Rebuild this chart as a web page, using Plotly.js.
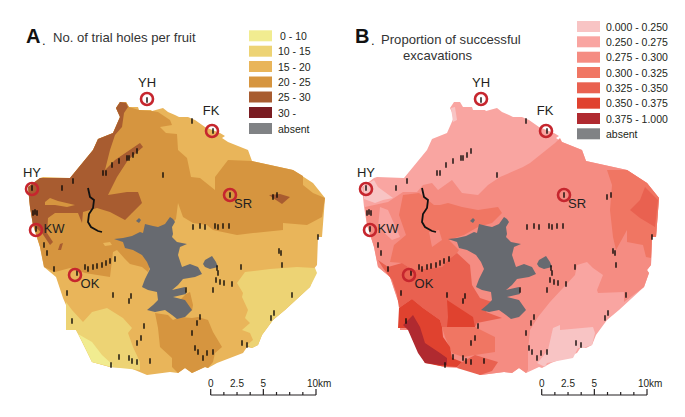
<!DOCTYPE html>
<html><head><meta charset="utf-8">
<script src="https://cdn.plot.ly/plotly-3.0.1.min.js"></script>
<style>html,body{margin:0;padding:0;background:#fff}#c{width:685px;height:417px}</style>
</head><body><div id="c"></div>
<script>
// ---------- legend content ----------
var legendA = ['0 - 10','10 - 15','15 - 20','20 - 25','25 - 30','30 -','absent'];
var coloursA = ['#F1EC90','#EDD374','#E9B55A','#D6953F','#A85C30','#7A1C22','#808285'];
var legendB = ['0.000 - 0.250','0.250 - 0.275','0.275 - 0.300','0.300 - 0.325','0.325 - 0.350','0.350 - 0.375','0.375 - 1.000','absent'];
var coloursB = ['#F8C4C4','#F9A5A1','#F58C82','#F07663','#E96150','#E0422F','#B02A30','#808285'];
var absentMap = '#676A70';

// ---------- sites ----------
var siteNames = ['YH','FK','SR','HY','KW','OK'];
var siteX = [147,212,230,32,36,75];
var siteY = [99,131,195,189,230,275];
var siteLabelX = [147,211,243,32,54,90];
var siteLabelY = [84,112,205,174,230,285];

// ---------- map geometry ----------
var outline = [[116,108],[120,102],[126,102],[129,107],[138,107],[139,110],[151,110],[152,111],[163,108],[168,112],[175,115],[179,117],[188,117],[195,120],[205,127],[220,133],[225,136],[222,138],[228,142],[248,150],[252,161],[293,170],[313,183],[325,198],[322,237],[318,237],[317,265],[313,270],[315,273],[310,287],[285,310],[273,320],[262,335],[258,345],[252,348],[247,347],[243,353],[217,363],[208,368],[205,367],[192,373],[185,368],[178,373],[170,372],[147,375],[130,368],[110,367],[92,362],[80,337],[76,330],[66,330],[66,305],[63,298],[56,277],[44,267],[40,247],[33,225],[30,207],[28,187],[40,178],[43,177],[70,178],[93,150],[98,139],[113,133],[120,117]];
var absentMain = [[114,239],[123,238],[132,236],[140,232],[143,233],[145,224],[153,226],[158,227],[165,224],[170,217],[173,219],[175,222],[172,227],[173,234],[172,237],[177,242],[187,244],[180,247],[178,255],[180,262],[182,267],[190,264],[198,267],[202,274],[195,277],[183,279],[178,285],[172,290],[185,287],[186,294],[173,297],[185,300],[190,307],[192,310],[185,317],[177,319],[172,315],[165,310],[155,312],[147,310],[153,305],[158,300],[157,292],[148,290],[142,287],[145,279],[150,269],[147,262],[142,255],[133,250],[125,248],[123,242]];
var absentBlob = [[203,264],[205,260],[212,256],[216,262],[218,267],[210,269],[205,267]];
var absentDot = [[136,221],[139,218],[141,220],[139,223]];

var a1520 = outline;
var a2025 = [[129,107],[139,110],[152,111],[158,112],[170,120],[172,125],[160,127],[166,133],[177,134],[178,150],[187,158],[191,177],[200,178],[215,190],[215,177],[228,160],[252,161],[293,170],[303,176],[303,185],[313,193],[325,198],[322,217],[307,225],[283,223],[283,230],[253,233],[237,235],[213,230],[207,225],[193,223],[183,217],[178,203],[176,219],[160,240],[148,272],[142,267],[130,264],[125,259],[117,250],[113,252],[112,263],[110,277],[85,273],[70,268],[55,272],[44,267],[40,247],[33,225],[30,207],[28,187],[40,178],[70,178],[93,150],[98,139],[113,133],[120,117],[116,108],[120,102],[126,102]];
var a2025South = [[155,313],[168,315],[173,320],[180,317],[192,318],[198,317],[208,320],[213,332],[222,347],[215,353],[213,362],[208,368],[205,367],[192,373],[185,368],[178,373],[172,367],[172,358],[160,347],[158,328]];
var a2025Lobe = [[186,294],[190,292],[193,305],[192,311],[180,300]];
var a2530 = [[116,108],[120,102],[126,103],[128,107],[124,113],[122,127],[115,135],[110,150],[105,170],[115,160],[140,143],[143,147],[128,160],[117,177],[108,195],[127,192],[138,192],[142,203],[132,213],[125,220],[110,212],[97,208],[83,212],[82,223],[78,213],[55,213],[48,218],[47,233],[53,242],[50,245],[42,233],[33,225],[30,207],[28,187],[40,178],[70,178],[93,150],[98,139],[113,133],[120,117]];
var a2530East = [[269,195],[280,194],[290,197],[282,204],[273,198]];
var a2530Small = [[58,250],[60,244],[63,243],[61,250]];
var a2025Island = [[45,202],[50,198],[58,201],[75,205],[67,207],[55,205],[45,205]];
var a1520Small = [[103,243],[110,242],[112,245],[105,246]];
var a1015East = [[237,283],[245,272],[270,269],[297,267],[315,268],[317,273],[310,287],[285,310],[273,320],[262,335],[258,345],[252,348],[247,345],[253,340],[250,333],[242,330],[250,323],[245,318],[248,310],[242,297],[243,293]];
var a1015West = [[66,302],[72,310],[83,322],[92,312],[107,308],[123,318],[132,328],[128,333],[133,347],[140,362],[140,370],[110,367],[92,362],[80,337],[76,330],[66,330]];
var a010 = [[78,334],[92,342],[102,355],[113,365],[112,367],[92,362],[80,337]];

var b2730 = [[31,207],[54,202],[69,192],[83,192],[89,185],[98,183],[104,190],[118,180],[128,193],[144,195],[154,185],[166,177],[189,167],[196,163],[221,143],[226,138],[228,142],[248,150],[252,161],[293,170],[313,183],[325,198],[322,237],[318,237],[317,265],[313,270],[315,273],[310,287],[290,302],[290,292],[264,293],[263,290],[269,275],[259,268],[253,262],[243,265],[241,275],[216,302],[204,317],[196,330],[194,350],[194,370],[192,373],[185,368],[178,373],[170,372],[147,375],[130,368],[110,367],[92,362],[80,337],[76,330],[66,330],[66,305],[63,298],[56,277],[44,267],[40,247],[33,225]];
var b3032North = [[69,195],[85,193],[100,205],[106,205],[114,203],[128,207],[144,210],[164,207],[168,213],[158,223],[144,227],[130,235],[115,240],[125,250],[123,253],[114,260],[108,267],[79,270],[68,263],[56,262],[60,245],[72,235],[65,215]];
var b3032East = [[273,170],[293,170],[313,183],[325,198],[322,237],[318,237],[317,258],[312,257],[309,245],[293,242],[293,230],[282,250],[279,237],[276,210],[278,185]];
var b3032South = [[108,327],[141,327],[161,337],[161,352],[141,355],[129,357],[118,353],[111,337]];
var b3235 = [[44,260],[54,267],[68,263],[79,270],[108,267],[114,260],[123,253],[136,265],[138,285],[146,298],[158,302],[152,312],[168,318],[143,323],[141,327],[108,327],[106,320],[89,308],[78,299],[65,308],[63,295],[58,280],[49,268]];
var b3235East = [[311,187],[324,200],[321,227],[306,218],[296,210],[306,200]];
var b3235South = [[128,362],[123,368],[146,375],[158,371],[164,362],[150,358],[141,355]];
var b3537 = [[65,308],[78,299],[89,308],[106,320],[108,327],[109,337],[116,347],[118,358],[128,362],[123,367],[106,366],[91,363],[79,340],[74,328],[64,328]];
var b3537Mid = [[113,300],[139,317],[141,327],[113,327],[114,317]];
var b3710 = [[69,325],[79,315],[86,327],[91,343],[106,353],[113,358],[113,365],[106,365],[91,363],[84,353],[74,330]];
var b0025HY = [[30,186],[40,180],[44,187],[59,198],[49,200],[41,203],[30,199]];
var b0025Top = [[117,108],[121,107],[123,120],[119,122]];
var b0025SE = [[219,328],[226,325],[226,330],[259,327],[261,333],[258,345],[249,348],[244,348],[239,358],[213,363],[211,367],[203,363],[206,360],[214,350]];
var b2527West = [[46,207],[54,210],[66,237],[58,240],[44,227]];
var b2730Lobe = [[95,232],[105,230],[108,240],[98,247]];

// ---------- trial-hole sites ----------
var holeX = [147,213,35,37,33,36,62,73,103,106,112,119,127,129,133,137,163,192,277,273,193,200,205,215,218,223,229,318,279,281,282,241,217,218,216,220,224,232,213,292,274,271,242,247,200,197,192,195,198,207,213,203,44,47,54,67,85,88,93,97,102,106,110,115,77,113,131,129,144,137,141,72,119,129,132,137,150,111,186,230,32];
var holeY = [100,131,212,213,213,229,188,181,173,173,165,161,158,158,155,151,175,121,195,197,227,226,227,226,227,226,226,237,251,253,265,267,268,273,280,282,283,284,290,295,313,318,343,345,317,323,333,348,352,353,352,358,245,253,269,293,267,269,267,266,265,263,261,259,273,295,296,301,326,343,338,321,357,358,361,362,361,365,290,195,188];
var trailX = [88,90,94,93,89,88,91,95,98,102];
var trailY = [188,197,200,208,214,222,227,229,231,232];

// ---------- scale bar (km) ----------
var scaleTicks = [0,1.25,2.5,3.75,5,6.25,7.5,8.75,10];
var scaleLabelKm = [0,2.5,5,10.3];
var scaleLabels = ['0','2.5','5','10km'];

// ---------- layout constants ----------
var W = 685, H = 417, KM = 10.53, dxB = 334;
var scaleA0 = 210.7, scaleB0 = 541.7, scaleBase = 395;

function xs(p){return p.map(function(d){return d[0];});}
function ys(p){return p.map(function(d){return d[1];});}
function poly(p,col,ax){
  return {type:'scatter',mode:'lines',x:xs(p).concat(p[0][0]),y:ys(p).concat(p[0][1]),fill:'toself',
    fillcolor:col,line:{width:0,color:col},xaxis:ax,yaxis:'y',hoverinfo:'skip',showlegend:false};
}
var A=coloursA, B=coloursB;
var data = [
  poly(a1520,A[2],'x'),poly(a2025,A[3],'x'),poly(a2025South,A[3],'x'),poly(a2025Lobe,A[3],'x'),poly(a2530,A[4],'x'),poly(a2530East,A[4],'x'),poly(a2530Small,A[4],'x'),
  poly(a2025Island,A[3],'x'),poly(a1520Small,A[2],'x'),poly(a1015East,A[1],'x'),poly(a1015West,A[1],'x'),poly(a010,A[0],'x'),
  poly(absentMain,absentMap,'x'),poly(absentBlob,absentMap,'x'),poly(absentDot,absentMap,'x'),

  poly(outline,B[1],'x2'),poly(b2730,B[2],'x2'),poly(b3032North,B[3],'x2'),poly(b3032East,B[3],'x2'),poly(b3032South,B[3],'x2'),
  poly(b3235,B[4],'x2'),poly(b3235East,B[4],'x2'),poly(b3235South,B[4],'x2'),poly(b3537,B[5],'x2'),poly(b3537Mid,B[5],'x2'),poly(b3710,B[6],'x2'),
  poly(b0025HY,B[0],'x2'),poly(b0025Top,B[0],'x2'),poly(b0025SE,B[0],'x2'),poly(b2527West,B[1],'x2'),poly(b2730Lobe,B[2],'x2'),
  poly(absentMain,absentMap,'x2'),poly(absentBlob,absentMap,'x2'),poly(absentDot,absentMap,'x2')
];
['x','x2'].forEach(function(ax){
  data.push({type:'scatter',mode:'lines',x:trailX,y:trailY,line:{color:'#111',width:1.8},xaxis:ax,yaxis:'y',hoverinfo:'skip',showlegend:false});
  data.push({type:'scatter',mode:'markers',x:holeX,y:holeY,marker:{symbol:'line-ns',size:4,line:{color:'#0d0a08',width:1.4}},xaxis:ax,yaxis:'y',hoverinfo:'skip',showlegend:false});
  data.push({type:'scatter',mode:'markers',x:siteX,y:siteY,marker:{symbol:'circle-open',size:12,color:'#C6262E',line:{color:'#C6262E',width:2.6}},xaxis:ax,yaxis:'y',hoverinfo:'skip',showlegend:false});
  data.push({type:'scatter',mode:'text',x:siteLabelX,y:siteLabelY,text:siteNames,textposition:'middle center',textfont:{family:'Liberation Sans',size:13,color:'#231F20'},xaxis:ax,yaxis:'y',hoverinfo:'skip',showlegend:false});
});
// scale bars on km axes
[['x3'],['x4']].forEach(function(a){
  var ax=a[0], tx=[], ty=[];
  scaleTicks.forEach(function(t,i){
    tx.push(t,t,null); ty.push(scaleBase, (i%4===0)?389:392, null);
  });
  tx.push(scaleTicks[0],scaleTicks[scaleTicks.length-1]); ty.push(scaleBase,scaleBase);
  data.push({type:'scatter',mode:'lines',x:tx,y:ty,line:{color:'#231F20',width:1.2},xaxis:ax,yaxis:'y',hoverinfo:'skip',showlegend:false,connectgaps:false});
  data.push({type:'scatter',mode:'text',x:scaleLabelKm,y:scaleLabelKm.map(function(){return 384;}),text:scaleLabels,textposition:'middle center',textfont:{family:'Liberation Sans',size:10,color:'#231F20'},xaxis:ax,yaxis:'y',hoverinfo:'skip',showlegend:false});
});

var shapes=[], ann=[];
function note(x,y,t,size,anchor,weight,col){
  ann.push({xref:'x',yref:'y',x:x,y:y,text:weight?'<b>'+t+'</b>':t,showarrow:false,xanchor:anchor||'left',yanchor:'middle',
    font:{family:'Liberation Sans',size:size,color:col||'#231F20'}});
}
var topsA=[30.3,45.7,61,76.5,91.5,107,123], topsB=[21,36.3,51.7,67,82.3,97.7,113,128.3];
legendA.forEach(function(t,i){
  shapes.push({type:'rect',xref:'x',yref:'y',x0:249,x1:272,y0:topsA[i],y1:topsA[i]+11,fillcolor:coloursA[i],line:{width:0}});
  note(i===0?278:276,topsA[i]+5.6,t,10.5);
});
legendB.forEach(function(t,i){
  shapes.push({type:'rect',xref:'x',yref:'y',x0:577,x1:600,y0:topsB[i],y1:topsB[i]+11,fillcolor:coloursB[i],line:{width:0}});
  note(604,topsB[i]+5.6,t,10.5);
});
note(24,35.5,'A',20,'left',true,'#111');
note(40,40,'.',13,'left',false,'#111');
note(51,37.5,'No. of trial holes per fruit',13.1,'left',false,'#333');
note(353,35.5,'B',20,'left',true,'#111');
note(369,40,'.',13,'left',false,'#111');
note(379,39,'Proportion of successful',13.1,'left',false,'#333');
note(401,55,'excavations',13.1,'left',false,'#333');

function xr(r,ov){var o={visible:false,fixedrange:true,range:r,domain:[0,1],anchor:'y'}; if(ov)o.overlaying='x'; return o;}
var layout={width:W,height:H,margin:{l:0,r:0,t:0,b:0},paper_bgcolor:'#fff',plot_bgcolor:'#fff',showlegend:false,
  xaxis:xr([0,W]),
  xaxis2:xr([-dxB,W-dxB],true),
  xaxis3:xr([-scaleA0/KM,(W-scaleA0)/KM],true),
  xaxis4:xr([-scaleB0/KM,(W-scaleB0)/KM],true),
  yaxis:{visible:false,fixedrange:true,range:[H,0],domain:[0,1]},
  shapes:shapes,annotations:ann};
Plotly.newPlot('c',data,layout,{displayModeBar:false,staticPlot:true});
</script></body></html>
